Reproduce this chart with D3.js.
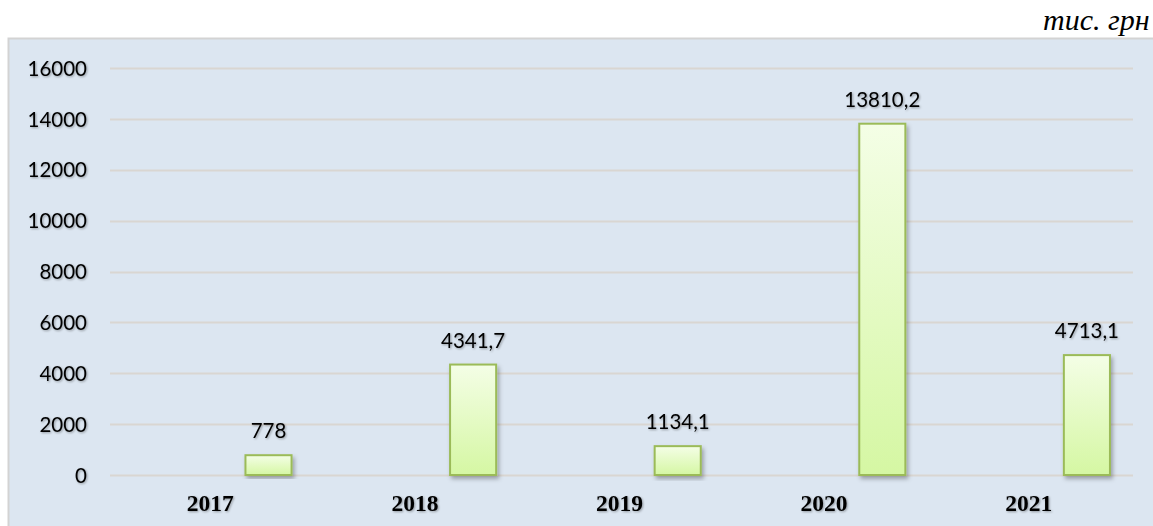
<!DOCTYPE html>
<html>
<head>
<meta charset="utf-8">
<script src="https://cdn.jsdelivr.net/npm/d3@7"></script>
<style>
	html, body { margin:0; padding:0; background:#fff; }
	svg { display:block; }
	.tick-label { font-family: Lato, "Noto Sans", sans-serif; font-size:20.5px; fill:#000; }
	.val-label { font-family: Lato, "Noto Sans", sans-serif; font-size:20.5px; fill:#000; }
	.year-label { font-family: "Liberation Serif", "DejaVu Serif", serif; font-size:23.5px; font-weight:bold; fill:#000; }
	.unit { font-family: "Liberation Serif", "DejaVu Serif", serif; font-size:30px; font-style:italic; fill:#000; }
</style>
</head>
<body>
<svg id="CHART"></svg>
<script>
// дані
var years = ["2017", "2018", "2019", "2020", "2021"];
var values = [778, 4341.7, 1134.1, 13810.2, 4713.1];
var valueLabels = ["778", "4341,7", "1134,1", "13810,2", "4713,1"];
var series = ["empty", "sum"];
var yTicks = [0, 2000, 4000, 6000, 8000, 10000, 12000, 14000, 16000];
var unitText = "тис. грн";

var width = 1153, height = 526;
var svg = d3.select("#CHART").attr("width", width).attr("height", height);

var defs = svg.append("defs");
var grad = defs.append("linearGradient")
	.attr("id", "barGrad").attr("x1", 0).attr("y1", 0).attr("x2", 0).attr("y2", 1);
grad.append("stop").attr("offset", "0%").attr("stop-color", "#f4fee6");
grad.append("stop").attr("offset", "100%").attr("stop-color", "#d5f7a3");

var shadow = defs.append("filter").attr("id", "barShadow")
	.attr("x", "-20%").attr("y", "-10%").attr("width", "150%").attr("height", "130%");
shadow.append("feDropShadow").attr("dx", 2).attr("dy", 3).attr("stdDeviation", 2)
	.attr("flood-color", "#000").attr("flood-opacity", 0.3);

var txtShadow = defs.append("filter").attr("id", "txtShadow")
	.attr("x", "-10%").attr("y", "-20%").attr("width", "130%").attr("height", "150%");
txtShadow.append("feDropShadow").attr("dx", 1).attr("dy", 1).attr("stdDeviation", 0.8)
	.attr("flood-color", "#000").attr("flood-opacity", 0.35);

// фон області діаграми
svg.append("rect")
	.attr("x", 8.5).attr("y", 38.5)
	.attr("width", width + 10).attr("height", height)
	.attr("fill", "#dce6f1")
	.attr("stroke", "#d3d3d3")
	.attr("stroke-width", 2);

// одиниці виміру
svg.append("text").attr("class", "unit")
	.attr("x", 1043).attr("y", 30)
	.text(unitText);

var plotLeft = 110, plotRight = 1133, plotTop = 68, plotBottom = 475;

var x0 = d3.scaleBand().domain(years).range([plotLeft, plotRight]).paddingInner(0).paddingOuter(0);
var x1 = d3.scaleBand().domain(series).range([0, x0.bandwidth()]).paddingInner(0.59).paddingOuter(0.205);
var y = d3.scaleLinear().domain([0, 16000]).range([plotBottom, plotTop]);

// сітка
svg.append("g").selectAll("line")
	.data(yTicks)
	.enter().append("line")
	.attr("x1", plotLeft).attr("x2", plotRight)
	.attr("y1", function(d){ return Math.round(y(d)) + 0.5; })
	.attr("y2", function(d){ return Math.round(y(d)) + 0.5; })
	.attr("stroke", "#d9d6d2")
	.attr("stroke-width", 2);

var yAxis = svg.append("g")
	.attr("transform", "translate(" + (plotLeft - 23) + ",0)")
	.call(d3.axisLeft(y).tickValues(yTicks).tickSize(0).tickFormat(d3.format("d")));
yAxis.select(".domain").remove();
yAxis.selectAll("text").attr("class", "tick-label").attr("x", 0).attr("dy", "0.35em")
	.attr("filter", "url(#txtShadow)");

var xAxis = svg.append("g")
	.attr("transform", "translate(0," + (plotBottom + 18) + ")")
	.call(d3.axisBottom(x0).tickSize(0));
xAxis.select(".domain").remove();
xAxis.selectAll("text").attr("class", "year-label").attr("y", 0).attr("dy", "0.75em")
	.attr("dx", "-2")
	.attr("filter", "url(#txtShadow)");

// стовпчики
var groups = svg.append("g").selectAll("g")
	.data(years)
	.enter().append("g")
	.attr("transform", function(d){ return "translate(" + x0(d) + ",0)"; });

groups.append("rect")
	.attr("x", x1("sum"))
	.attr("width", x1.bandwidth())
	.attr("y", function(d, i){ return y(values[i]); })
	.attr("height", function(d, i){ return y(0) - y(values[i]); })
	.attr("fill", "url(#barGrad)")
	.attr("stroke", "#9bbb59")
	.attr("stroke-width", 2)
	.attr("filter", "url(#barShadow)");

groups.append("text")
	.attr("class", "val-label")
	.attr("text-anchor", "middle")
	.attr("x", x1("sum") + x1.bandwidth() / 2)
	.attr("y", function(d, i){ return y(values[i]) - 17; })
	.attr("filter", "url(#txtShadow)")
	.text(function(d, i){ return valueLabels[i]; });
</script>
</body>
</html>
